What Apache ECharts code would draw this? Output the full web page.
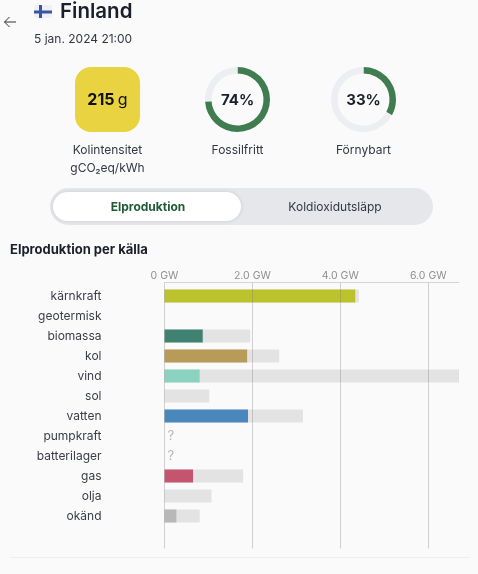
<!DOCTYPE html>
<html>
<head>
<meta charset="utf-8">
<style>html,body{margin:0;padding:0;background:#fafafa}#c{width:478px;height:574px}</style>
<script src="https://cdn.jsdelivr.net/npm/echarts@6/dist/echarts.min.js"></script>
</head>
<body>
<div id="c"></div>
<script>
const categories = ['kärnkraft','geotermisk','biomassa','kol','vind','sol','vatten','pumpkraft','batterilager','gas','olja','okänd',''];
const production = [4.34,null,0.87,1.88,0.8,null,1.9,null,null,0.65,null,0.27,null];
const capacity = [4.42,null,1.95,2.61,6.7,1.02,3.15,null,null,1.79,1.07,0.8,null];
const unknownMarks = [null,null,null,null,null,null,null,0,0,null,null,null,null];
const barColors = ['#bcc22c','#999','#3f8272','#b89b58','#8bd3c0','#f2c94c','#4a87bd','#999','#999','#c5556f','#999','#b8b8b8','#999'];
const fossilFree = [74,26];
const renewable = [33,67];
const FONT = 'Inter';
const chart = echarts.init(document.getElementById('c'), null, {renderer:'canvas'});

function txt(x,y,text,size,color,weight,align){
  return {type:'text',x,y,silent:true,z:5,style:{text,fontFamily:FONT,fontSize:size,fontWeight:weight||400,fill:color,align:align||'left',verticalAlign:'middle'}};
}
function donut(cx,vals){
  return {type:'pie',silent:true,center:[cx,99.5],radius:[26,32.5],startAngle:90,clockwise:true,
    label:{show:false},labelLine:{show:false},animation:false,
    data:[{value:vals[0],itemStyle:{color:'#3f7c4f'}},{value:vals[1],itemStyle:{color:'#eceef2'}}]};
}

chart.setOption({
  animation:false,
  backgroundColor:'#fafafa',
  grid:[
    {left:164.5,top:282.5,width:294.5,height:266,containLabel:false},
    {left:164.5,top:286,width:294.5,height:260,containLabel:false}
  ],
  xAxis:[
    {type:'value',gridIndex:0,position:'top',min:0,max:6.7,interval:2,z:4,
     axisLine:{show:true,lineStyle:{color:'#d4d4d4',width:1}},axisTick:{show:false},
     axisLabel:{showMaxLabel:false,margin:1,fontFamily:FONT,fontSize:10.5,color:'#8f8f8f',formatter:v=>v.toFixed(1).replace('0.0','0')+' GW'},
     splitLine:{show:true,showMaxLine:false,lineStyle:{color:'rgba(120,120,120,0.32)',width:1}}},
    {type:'value',gridIndex:1,min:0,max:6.7,interval:2,show:false,splitLine:{show:false}}
  ],
  yAxis:[
    {type:'category',gridIndex:0,show:false,data:['']},
    {type:'category',gridIndex:1,inverse:true,data:categories,
     axisLine:{show:false},axisTick:{show:false},
     axisLabel:{margin:63,fontFamily:FONT,fontSize:12,color:'#3a3d45',interval:0}}
  ],
  series:[
    {type:'bar',name:'kapacitet',xAxisIndex:1,yAxisIndex:1,barWidth:13,barGap:'-100%',silent:true,
     itemStyle:{color:'#e3e3e3'},data:capacity},
    {type:'bar',name:'produktion',xAxisIndex:1,yAxisIndex:1,barWidth:13,barGap:'-100%',silent:true,
     data:production.map((v,i)=>({value:v,itemStyle:{color:barColors[i]}}))},
    {type:'bar',name:'okänt',xAxisIndex:1,yAxisIndex:1,barWidth:13,barGap:'-100%',silent:true,
     itemStyle:{color:'transparent'},data:unknownMarks,
     label:{show:true,position:'right',distance:3,formatter:'?',fontFamily:FONT,fontSize:13,color:'#b5b5b5'}},
    donut(237.5,fossilFree),
    donut(363.5,renewable)
  ],
  graphic:[
    // back arrow
    {type:'polyline',silent:true,shape:{points:[[4.5,22],[16,22]]},style:{stroke:'#333',lineWidth:1,fill:null}},
    {type:'polyline',silent:true,shape:{points:[[9.5,17],[4.5,22],[9.5,27]]},style:{stroke:'#333',lineWidth:1,fill:null}},
    // flag
    {type:'rect',silent:true,shape:{x:34,y:5,width:18,height:13,r:2},style:{fill:'#eef0f4'}},
    {type:'rect',silent:true,shape:{x:34,y:10.5,width:18,height:3},style:{fill:'#3a55a8'}},
    {type:'rect',silent:true,shape:{x:39,y:5,width:3,height:13},style:{fill:'#3a55a8'}},
    txt(60,12,'Finland',20.5,'#1a1f2b',600),
    txt(34,39,'5 jan. 2024 21:00',12,'#333740',400),
    // intensity card
    {type:'rect',silent:true,shape:{x:75,y:67,width:65,height:65,r:16},style:{fill:'#e9d341'}},
    {type:'text',silent:true,z:5,x:107.5,y:100.5,style:{
      text:'{b|215} {n|g}',align:'center',verticalAlign:'middle',
      rich:{b:{fontFamily:FONT,fontSize:16,fontWeight:700,fill:'#111',color:'#111'},n:{fontFamily:FONT,fontSize:16,fontWeight:400,fill:'#111',color:'#111'}}}},
    txt(107.5,150,'Kolintensitet',12,'#333740',400,'center'),
    txt(107.5,168,'gCO₂eq/kWh',12,'#333740',400,'center'),
    txt(237.5,100,'74%',15,'#1a1f2b',700,'center'),
    txt(363.5,100,'33%',15,'#1a1f2b',700,'center'),
    txt(237.5,150,'Fossilfritt',12,'#333740',400,'center'),
    txt(363.5,150,'Förnybart',12,'#333740',400,'center'),
    // toggle
    {type:'rect',silent:true,shape:{x:50,y:188,width:383,height:37,r:18.5},style:{fill:'#e5e7eb'}},
    {type:'rect',silent:true,z:2,shape:{x:53,y:192,width:188,height:29,r:14.5},style:{fill:'#fff',shadowBlur:4,shadowColor:'rgba(0,0,0,0.12)'}},
    txt(148,207.5,'Elproduktion',12,'#1d5b35',700,'center'),
    txt(335,207.5,'Koldioxidutsläpp',12,'#333740',400,'center'),
    txt(10,250,'Elproduktion per källa',13,'#1a1f2b',700),
    // bottom rule
    {type:'rect',silent:true,shape:{x:10,y:557,width:460,height:1},style:{fill:'#eeeeee'}}
  ]
});
</script>
</body>
</html>
